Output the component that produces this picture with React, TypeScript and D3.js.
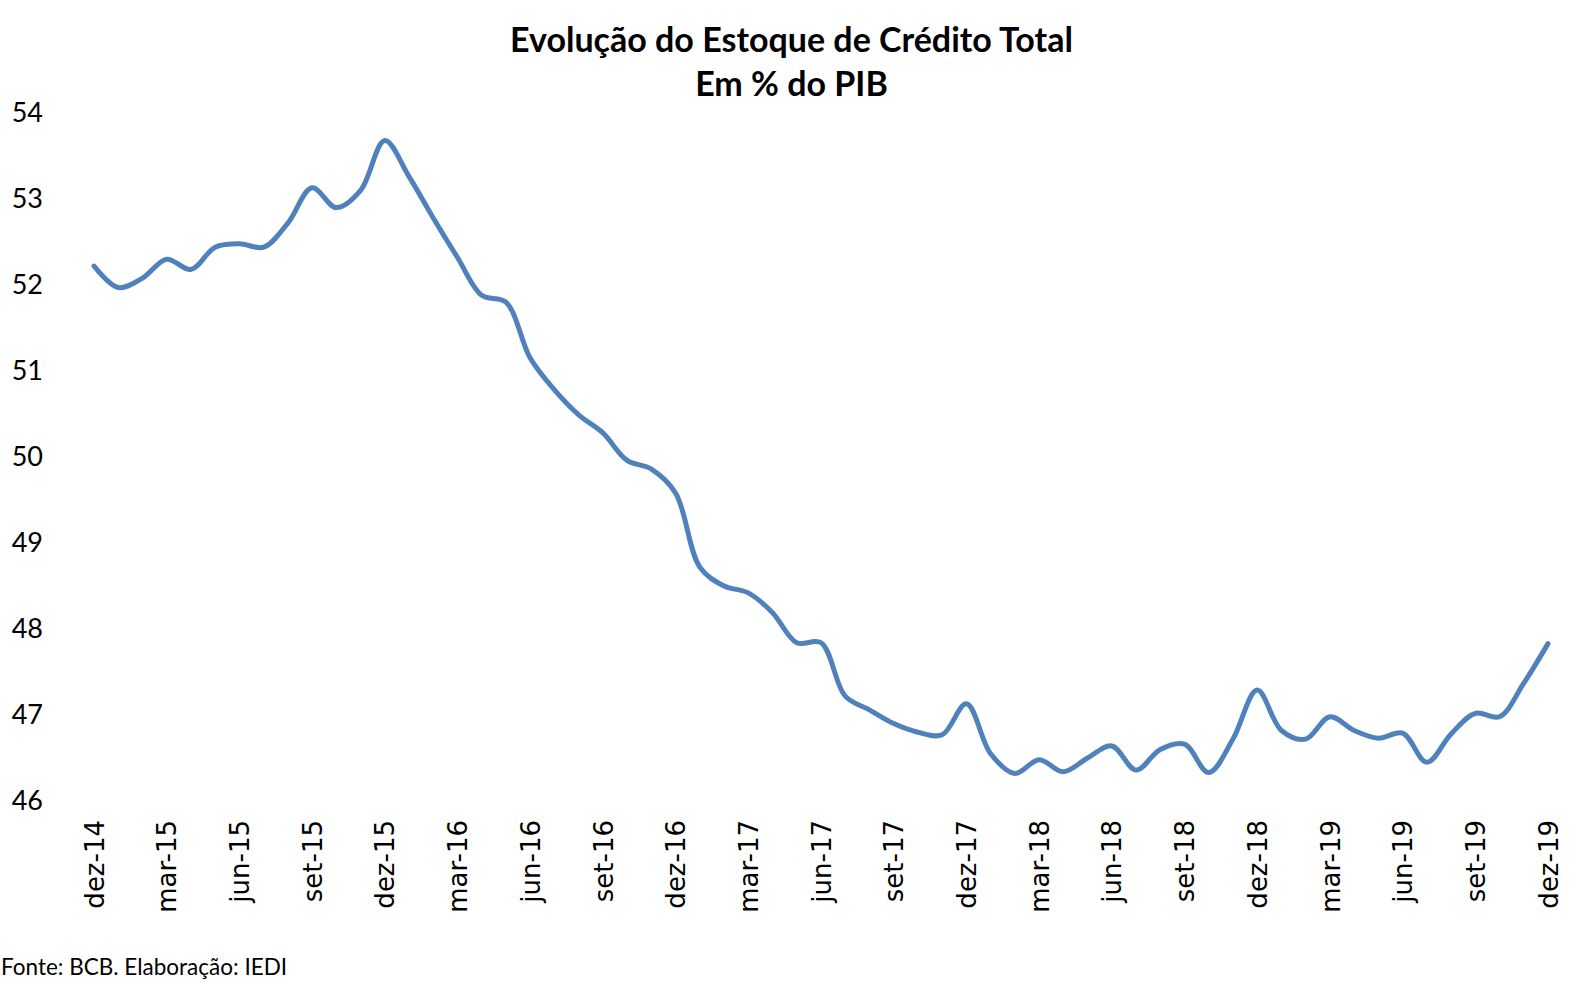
import { useEffect, useRef } from 'react';
import * as d3 from 'd3';

// Monthly categories dez-14 .. dez-19
const MONTHS = ['jan', 'fev', 'mar', 'abr', 'mai', 'jun', 'jul', 'ago', 'set', 'out', 'nov', 'dez'];
const START_YEAR = 14;
const START_MONTH = 11; // dez

// Estoque de crédito total, % do PIB
const creditoPIB = [
    52.22, 51.97, 52.08, 52.30, 52.18, 52.44, 52.48, 52.44, 52.72, 53.13, 52.90, 53.10,
    53.68, 53.26, 52.78, 52.32, 51.88, 51.80, 51.15, 50.78, 50.49, 50.28, 49.96, 49.86,
    49.58, 48.72, 48.50, 48.42, 48.19, 47.84, 47.84, 47.22, 47.06, 46.90, 46.80, 46.77,
    47.13, 46.55, 46.32, 46.48, 46.34, 46.50, 46.64, 46.36, 46.60, 46.66, 46.33, 46.72,
    47.29, 46.82, 46.72, 46.98, 46.82, 46.73, 46.79, 46.45, 46.78, 47.02, 46.98, 47.37,
    47.83,
];

const categories = creditoPIB.map((_, i) => {
    const m = START_MONTH + i;
    return `${MONTHS[m % 12]}-${START_YEAR + Math.floor(m / 12)}`;
});

// every third month gets a label
const tickLabels = categories.filter((_, i) => i % 3 === 0);

const yTicks = [46, 47, 48, 49, 50, 51, 52, 53, 54];

const titleLines = ['Evolução do Estoque de Crédito Total', 'Em % do PIB'];
const sourceNote = 'Fonte: BCB. Elaboração: IEDI';

const App = () => {
    const svgRef = useRef<SVGSVGElement>(null);

    useEffect(() => {
        document.body.style.margin = '0';
        if (!svgRef.current) return;

        const svg = d3.select(svgRef.current);
        svg.selectAll('*').remove();

        const width = 1583;
        const height = 988;
        const plot = { left: 94, right: 1548, top: 113, bottom: 801 };

        svg.attr('width', width).attr('height', height);

        const xScale = d3.scalePoint<string>()
            .domain(categories)
            .range([plot.left, plot.right]);

        const yScale = d3.scaleLinear()
            .domain([46, 54])
            .range([plot.bottom, plot.top]);

        // title
        svg.append('g')
            .selectAll('text')
            .data(titleLines)
            .join('text')
            .attr('x', width / 2)
            .attr('y', (_, i) => 52 + i * 44)
            .attr('text-anchor', 'middle')
            .style('font-family', 'Lato, sans-serif')
            .style('font-weight', 'bold')
            .style('font-size', '34px')
            .style('fill', '#000')
            .text(d => d);

        // y axis labels
        const yAxis = d3.axisLeft(yScale)
            .tickValues(yTicks)
            .tickSize(0)
            .tickPadding(0)
            .tickFormat(d3.format('d'));

        const gy = svg.append('g')
            .attr('transform', 'translate(43,0)')
            .call(yAxis);
        gy.select('.domain').remove();
        gy.selectAll('text')
            .style('font-family', 'Lato, sans-serif')
            .style('font-size', '27px')
            .style('fill', '#000');

        // x axis labels
        const xAxis = d3.axisBottom(xScale)
            .tickValues(tickLabels)
            .tickSize(0)
            .tickPadding(0);

        const gx = svg.append('g')
            .attr('transform', 'translate(0,820)')
            .call(xAxis);
        gx.select('.domain').remove();
        gx.selectAll('text')
            .attr('transform', 'rotate(-90)')
            .attr('x', 0)
            .attr('y', 0)
            .attr('dy', '0.35em')
            .attr('text-anchor', 'end')
            .style('font-family', '"DejaVu Sans", sans-serif')
            .style('font-size', '26px')
            .style('fill', '#000');

        // the series
        const line = d3.line<number>()
            .x((_, i) => xScale(categories[i]) ?? 0)
            .y(d => yScale(d))
            .curve(d3.curveCatmullRom.alpha(0.5));

        svg.append('path')
            .datum(creditoPIB)
            .attr('d', line)
            .attr('fill', 'none')
            .attr('stroke', '#4F81BD')
            .attr('stroke-width', 5)
            .attr('stroke-linejoin', 'round')
            .attr('stroke-linecap', 'round');

        // source
        svg.append('text')
            .attr('x', 1)
            .attr('y', 975)
            .style('font-family', 'Lato, sans-serif')
            .style('font-size', '22.5px')
            .style('fill', '#000')
            .text(sourceNote);
    }, []);

    return (
        <div>
            <svg ref={svgRef} style={{ display: 'block' }}></svg>
        </div>
    );
};

export default App;
